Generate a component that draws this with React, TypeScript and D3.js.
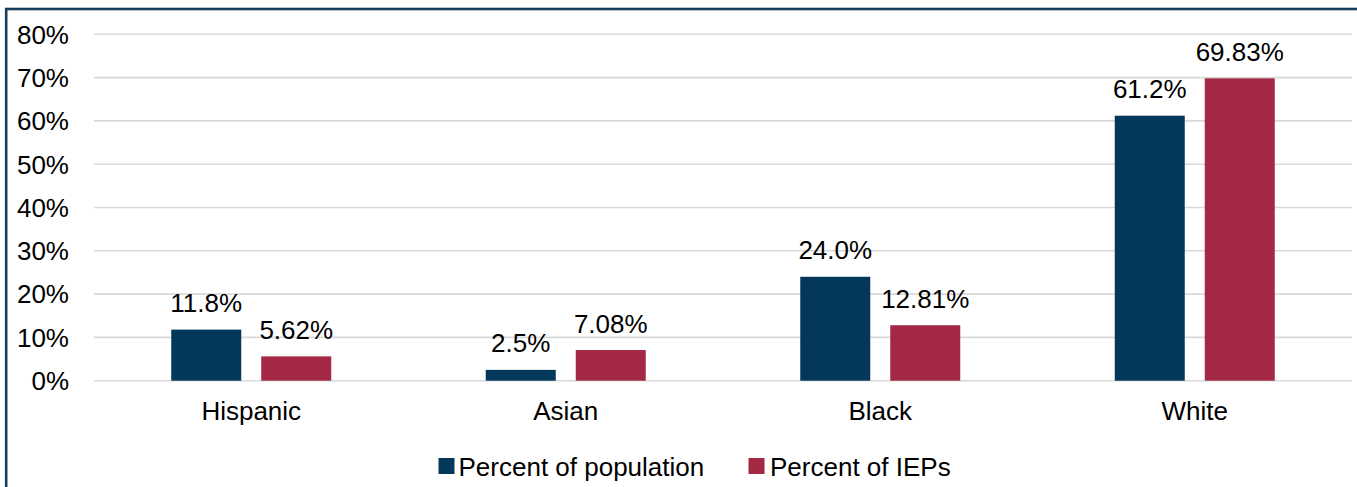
import React from "react";
import * as d3 from "d3";

// Race/ethnicity groups shown on the x axis
const categories: string[] = ["Hispanic", "Asian", "Black", "White"];

// Share of the total population (%)
const populationPct: number[] = [11.8, 2.5, 24.0, 61.2];
const populationLabels: string[] = ["11.8%", "2.5%", "24.0%", "61.2%"];

// Share of IEPs (%)
const iepPct: number[] = [5.62, 7.08, 12.81, 69.83];
const iepLabels: string[] = ["5.62%", "7.08%", "12.81%", "69.83%"];

const seriesNames: string[] = ["Percent of population", "Percent of IEPs"];
const yTicks: number[] = [0, 10, 20, 30, 40, 50, 60, 70, 80];

const W = 1357;
const H = 487;
const NAVY = "#04385B";
const RED = "#A32843";
const GRID = "#D9D9D9";
const FONT = "'Liberation Sans', Arial, Helvetica, sans-serif";
const FS = 26;

export default function App() {
  const plotLeft = 94;
  const plotRight = 1352;
  const y = d3.scaleLinear().domain([0, 80]).range([380.7, 34.3]);
  const x = d3.scaleBand<string>().domain(categories).range([plotLeft, plotRight]);

  const barW = 70;
  const gap = 20;
  const series = [
    { name: seriesNames[0], values: populationPct, labels: populationLabels, color: NAVY, offset: -(gap / 2 + barW) },
    { name: seriesNames[1], values: iepPct, labels: iepLabels, color: RED, offset: gap / 2 },
  ];

  const center = (c: string) => (x(c) as number) + x.bandwidth() / 2;

  return (
    <svg
      width={W}
      height={H}
      style={{ position: "absolute", left: 0, top: 0, display: "block", background: "#fff" }}
      fontFamily={FONT}
    >
      {/* outer frame */}
      <rect x={6.2} y={9} width={W + 20} height={H + 20} fill="none" stroke="#163E5C" strokeWidth={2.6} />

      {/* gridlines and y tick labels */}
      {yTicks.map((t) => (
        <g key={t}>
          <line x1={plotLeft} x2={plotRight} y1={y(t)} y2={y(t)} stroke={GRID} strokeWidth={1.6} />
          <text x={69} y={y(t)} dy="0.36em" textAnchor="end" fontSize={FS} fill="#000">
            {`${t}%`}
          </text>
        </g>
      ))}

      {/* bars with value labels */}
      {series.map((s) =>
        categories.map((c, i) => {
          const bx = center(c) + s.offset;
          const top = y(s.values[i]);
          return (
            <g key={s.name + c}>
              <rect x={bx} y={top} width={barW} height={y(0) - top} fill={s.color} />
              <text x={bx + barW / 2} y={top - 17.5} textAnchor="middle" fontSize={FS} fill="#000">
                {s.labels[i]}
              </text>
            </g>
          );
        })
      )}

      {/* category labels */}
      {categories.map((c) => (
        <text key={c} x={center(c)} y={420} textAnchor="middle" fontSize={FS} fill="#000">
          {c}
        </text>
      ))}

      {/* legend */}
      <g>
        <rect x={438.5} y={458} width={16} height={16} fill={NAVY} />
        <text x={458.5} y={475.5} fontSize={FS} fill="#000">{seriesNames[0]}</text>
        <rect x={748.5} y={458} width={16} height={16} fill={RED} />
        <text x={770} y={475.5} fontSize={FS} fill="#000">{seriesNames[1]}</text>
      </g>
    </svg>
  );
}
